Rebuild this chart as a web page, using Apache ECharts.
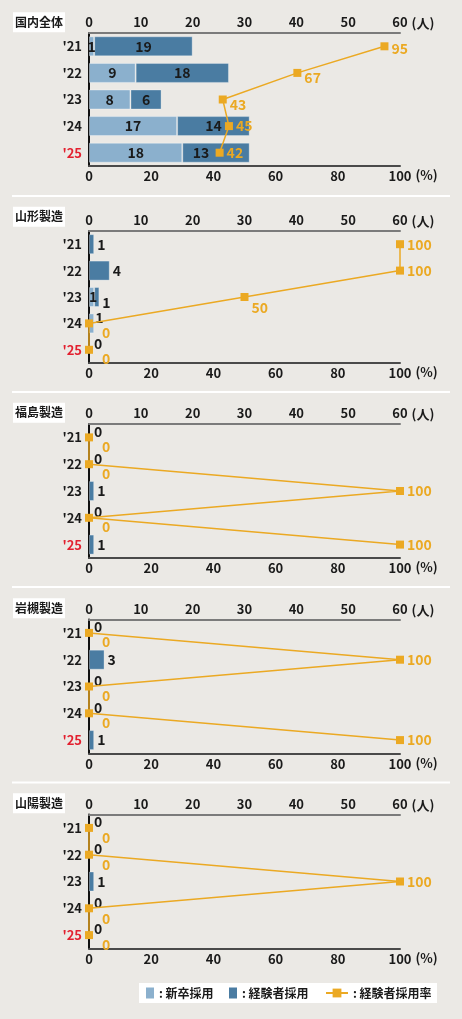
<!DOCTYPE html>
<html><head><meta charset="utf-8">
<script src="https://cdn.jsdelivr.net/npm/echarts@6/dist/echarts.min.js"></script>
<style>html,body{margin:0;padding:0;background:#EBE9E5;}#c{width:462px;height:1019px;}</style>
</head><body><div id="c"></div>
<script>
// ---- data ----
const years = ["'21", "'22", "'23", "'24", "'25"];
const panelNames = ['国内全体', '山形製造', '福島製造', '岩槻製造', '山陽製造'];
const newGrad = [
  [1, 9, 8, 17, 18],
  [0, 0, 1, 1, 0],
  [0, 0, 0, 0, 0],
  [0, 0, 0, 0, 0],
  [0, 0, 0, 0, 0]
];
const experienced = [
  [19, 18, 6, 14, 13],
  [1, 4, 1, 0, 0],
  [0, 0, 1, 0, 1],
  [0, 3, 0, 0, 1],
  [0, 0, 1, 0, 0]
];
const expRate = [
  [95, 67, 43, 45, 42],
  [100, 100, 50, 0, 0],
  [0, 0, 100, 0, 100],
  [0, 100, 0, 0, 100],
  [0, 0, 100, 0, 0]
];
const peopleMax = 60, peopleStep = 10;
const rateMax = 100, rateStep = 20;

// ---- layout / style ----
const F = "'Noto Sans CJK JP','Noto Sans',sans-serif";
const C_NEW = '#8BB0CD', C_EXP = '#4A7CA2', C_RATE = '#EBA923', C_RED = '#E3202F';
const gridTops = [33, 231, 424, 619.5, 814.5];
const gridHeights = [133, 132, 134, 134, 134];
const titleTops = [12.3, 206.7, 402.7, 598.3, 793.3];
const sepYs = [195, 391, 586, 781.5];
const rateLabelDy = [[2, 5, 5, 0, 0], [0, 0, 11, 9, 9], [9, 9, 0, 9, 0], [9, 0, 9, 9, 0], [10, 10, 0, 10, 10]];
const totalDarkLabelDx = [0, 0, 0, 0, -15];

const txt = {fontFamily: F, fontWeight: 'bold', color: '#1a1a1a'};
const grids = [], xAxes = [], yAxes = [], series = [], titles = [];

function lightLabel(p, i) {
  const base = Object.assign({show: true, fontSize: 14}, txt);
  const l = newGrad[p][i], d = experienced[p][i];
  if (p === 0) return Object.assign(base, {position: 'inside'});
  if (l <= 0) return {show: false};
  if (d > 0) return Object.assign(base, {position: 'insideLeft', distance: 0});
  return Object.assign(base, {position: 'right', distance: 1, offset: [0, -6]});
}
function darkLabel(p, i) {
  const base = Object.assign({show: true, fontSize: 14}, txt);
  const l = newGrad[p][i], d = experienced[p][i];
  if (p === 0) return Object.assign(base, {position: 'inside', offset: [totalDarkLabelDx[i], 0]});
  if (l + d === 0) return Object.assign(base, {position: 'right', distance: 5, offset: [0, -6]});
  if (d <= 0) return {show: false};
  return Object.assign(base, {position: 'right', distance: 3, offset: [0, l > 0 ? 6 : 0]});
}

for (let p = 0; p < 5; p++) {
  grids.push({left: 89, width: 311, top: gridTops[p], height: gridHeights[p]});
  xAxes.push({
    type: 'value', gridIndex: p, position: 'top', min: 0, max: peopleMax, interval: peopleStep,
    axisLine: {show: true, lineStyle: {color: '#7b7b7b', width: 2}},
    axisTick: {show: false}, splitLine: {show: false},
    axisLabel: Object.assign({margin: 4, fontSize: 13}, txt),
    name: '(人)', nameLocation: 'end', nameGap: 10,
    nameTextStyle: Object.assign({fontSize: 13, verticalAlign: 'bottom', padding: [0, 0, 3, 0]}, txt)
  });
  xAxes.push({
    type: 'value', gridIndex: p, position: 'bottom', min: 0, max: rateMax, interval: rateStep,
    axisLine: {show: true, lineStyle: {color: '#4a4a4a', width: 2}},
    axisTick: {show: false}, splitLine: {show: false},
    axisLabel: Object.assign({margin: 4, fontSize: 13}, txt),
    name: '(%)', nameLocation: 'end', nameGap: 11,
    nameTextStyle: Object.assign({fontSize: 13, verticalAlign: 'top', padding: [3, 0, 0, 0]}, txt)
  });
  yAxes.push({
    type: 'category', gridIndex: p, data: years, inverse: true,
    axisLine: {show: true, lineStyle: {color: '#111', width: 2}},
    axisTick: {show: false}, splitLine: {show: false},
    axisLabel: {margin: 7, fontSize: 13, fontFamily: F, fontWeight: 'bold',
      color: (v, i) => (i === years.length - 1 ? C_RED : '#1a1a1a')}
  });
  titles.push({
    text: panelNames[p], left: 13, top: titleTops[p], backgroundColor: '#fff', padding: [4, 2],
    textStyle: Object.assign({fontSize: 12, lineHeight: 12}, txt)
  });
  series.push({
    type: 'bar', name: '新卒採用', xAxisIndex: 2 * p, yAxisIndex: p, stack: 's' + p, barWidth: 20,
    itemStyle: {color: C_NEW},
    data: newGrad[p].map((v, i) => ({value: v, label: lightLabel(p, i),
      itemStyle: v > 0 ? {borderColor: 'rgba(255,255,255,0.35)', borderWidth: 1} : {borderWidth: 0}}))
  });
  series.push({
    type: 'bar', name: '経験者採用', xAxisIndex: 2 * p, yAxisIndex: p, stack: 's' + p, barWidth: 20,
    itemStyle: {color: C_EXP},
    data: experienced[p].map((v, i) => ({value: v, label: darkLabel(p, i),
      itemStyle: v > 0 ? {borderColor: 'rgba(255,255,255,0.3)', borderWidth: 1} : {borderWidth: 0}}))
  });
  series.push({
    type: 'line', name: '経験者採用率', xAxisIndex: 2 * p + 1, yAxisIndex: p, z: 5,
    symbol: 'rect', symbolSize: 8,
    lineStyle: {color: C_RATE, width: 1.5}, itemStyle: {color: C_RATE},
    data: expRate[p].map((v, i) => ({value: v, label: {
      show: true, position: 'right', distance: 3, offset: [v === 0 ? 6 : 0, rateLabelDy[p][i]],
      color: C_RATE, fontSize: 14, fontWeight: 'bold', fontFamily: F}}))
  });
}

const graphics = sepYs.map(y => ({type: 'rect', shape: {x: 12, y: y, width: 438, height: 2}, style: {fill: '#fff'}, silent: true}));
graphics.push({type: 'rect', shape: {x: 139, y: 983, width: 298, height: 20}, style: {fill: '#fff'}, silent: true});

const legBase = {orient: 'horizontal', padding: 0, selectedMode: false, formatter: ': {name}',
  textStyle: Object.assign({fontSize: 12}, txt)};
const legends = [
  Object.assign({}, legBase, {data: [{name: '新卒採用', icon: 'rect'}], left: 146, top: 987, itemWidth: 8, itemHeight: 11}),
  Object.assign({}, legBase, {data: [{name: '経験者採用', icon: 'rect'}], left: 229, top: 987, itemWidth: 8, itemHeight: 11}),
  Object.assign({}, legBase, {data: ['経験者採用率'], left: 325, top: 987, itemWidth: 22, itemHeight: 11})
];

const chart = echarts.init(document.getElementById('c'), null, {renderer: 'canvas'});
chart.setOption({
  animation: false,
  backgroundColor: '#EBE9E5',
  title: titles,
  grid: grids,
  xAxis: xAxes,
  yAxis: yAxes,
  legend: legends,
  graphic: graphics,
  series: series
});
</script></body></html>
